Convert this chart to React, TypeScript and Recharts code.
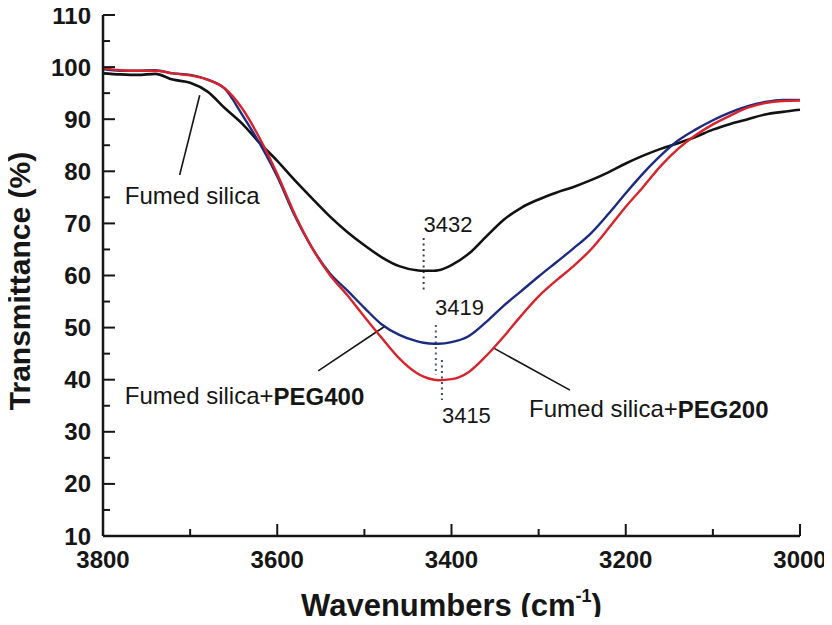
import React from "react";
import { LineChart, Line, XAxis, YAxis, ReferenceLine, ReferenceDot } from "recharts";

// wavenumber (cm-1) sampling shared by the three spectra
const wavenumbers = [
  3800, 3780, 3760, 3740, 3720, 3700, 3680, 3660, 3640, 3620, 3600, 3580, 3560, 3540, 3520,
  3500, 3480, 3460, 3440, 3432, 3420, 3415, 3400, 3380, 3360, 3340, 3320, 3300, 3280, 3260,
  3240, 3220, 3200, 3180, 3160, 3140, 3120, 3100, 3080, 3060, 3040, 3020, 3000,
];

// transmittance (%)
const fumedSilica = [
  98.8, 98.6, 98.5, 98.7, 97.6, 97.0, 95.3, 92.1, 89.1, 85.4, 82.0, 78.3, 74.8, 71.4, 68.4,
  65.8, 63.5, 61.8, 61.0, 60.9, 60.9, 61.0, 62.0, 64.2, 67.5, 70.7, 73.0, 74.6, 75.9, 77.0,
  78.3, 79.8, 81.5, 83.0, 84.3, 85.4, 86.6, 88.0, 89.1, 90.0, 90.9, 91.4, 91.8,
];
const peg400 = [
  99.6, 99.3, 99.3, 99.4, 98.8, 98.5, 97.6, 95.8, 90.8, 85.3, 79.0, 71.5, 65.3, 60.5, 57.2,
  53.8, 50.6, 48.6, 47.4, 47.1, 46.9, 46.9, 47.2, 48.4, 51.1, 54.2, 57.0, 59.8, 62.5, 65.2,
  68.1, 71.8, 75.8, 79.6, 83.0, 85.9, 88.0, 89.8, 91.3, 92.5, 93.3, 93.7, 93.7,
];
const peg200 = [
  99.8, 99.4, 99.3, 99.3, 98.8, 98.4, 97.6, 95.9, 92.0, 86.3, 79.5, 71.8, 65.3, 60.2, 56.3,
  52.1, 48.0, 44.1, 41.3, 40.6, 40.0, 39.9, 40.1, 41.5, 44.6, 48.3, 52.3, 56.0, 59.0, 61.8,
  65.0, 69.0, 73.2, 77.0, 81.0, 84.3, 86.9, 89.0, 90.7, 92.2, 93.1, 93.5, 93.6,
];

const xTicks = [3000, 3100, 3200, 3300, 3400, 3500, 3600, 3700, 3800];
const yTicks = [10, 15, 20, 25, 30, 35, 40, 45, 50, 55, 60, 65, 70, 75, 80, 85, 90, 95, 100, 105, 110];

// peak markers: wavenumber, top and bottom of the dotted line
const peakLines = [
  { wn: 3432, top: 67.2, bottom: 56.7, color: "#3a3f4f" },
  { wn: 3418, top: 50.5, bottom: 40.9, color: "#4a5a82" },
  { wn: 3411, top: 43.8, bottom: 36.1, color: "#3a4a70" },
];
const peakLabels = [
  { wn: 3432, t: 69.8, text: "3432" },
  { wn: 3419, t: 53.8, text: "3419" },
  { wn: 3411, t: 33.2, text: "3415" },
];

// leader lines from the captions to the curves
const pointers = [
  { from: { x: 3712, y: 79.3 }, to: { x: 3689, y: 94.6 } },
  { from: { x: 3553, y: 41.7 }, to: { x: 3476, y: 50.3 } },
  { from: { x: 3352, y: 46.1 }, to: { x: 3264, y: 38.0 } },
];
const captions = [
  { wn: 3775, t: 75.3, plain: "Fumed silica", bold: "" },
  { wn: 3775, t: 36.9, plain: "Fumed silica+", bold: "PEG400" },
  { wn: 3311, t: 34.4, plain: "Fumed silica+", bold: "PEG200" },
];

const data = wavenumbers.map((wn, i) => ({
  wn,
  silica: fumedSilica[i],
  peg400: peg400[i],
  peg200: peg200[i],
}));

const INK = "#161616";
const FONT = "'Liberation Sans', Arial, sans-serif";

const XTick = (props: any) => {
  const { x, y, payload } = props;
  const major = payload.value % 200 === 0;
  return (
    <g>
      <line x1={x} y1={y} x2={x} y2={y - (major ? 12 : 7)} stroke={INK} strokeWidth={2} />
      {major && (
        <text x={x} y={y + 23} textAnchor="middle" dominantBaseline="central" fontSize={24} fontWeight="bold" fill={INK} fontFamily={FONT}>
          {payload.value}
        </text>
      )}
    </g>
  );
};

const YTick = (props: any) => {
  const { x, y, payload } = props;
  const major = payload.value % 10 === 0;
  return (
    <g>
      <line x1={x} y1={y} x2={x + (major ? 12 : 7)} y2={y} stroke={INK} strokeWidth={2} />
      {major && (
        <text x={x - 12} y={y} textAnchor="end" dominantBaseline="central" fontSize={24} fontWeight="bold" fill={INK} fontFamily={FONT}>
          {payload.value}
        </text>
      )}
    </g>
  );
};

export default function App() {
  return (
    <div style={{ width: 832, height: 625, margin: -8, fontFamily: FONT }}>
      <LineChart width={832} height={625} data={data} margin={{ top: 15, right: 32, left: 0, bottom: 0 }}>
        <XAxis
          dataKey="wn"
          type="number"
          domain={[3000, 3800]}
          reversed
          ticks={xTicks}
          interval={0}
          tickSize={0}
          tickMargin={0}
          tick={<XTick />}
          tickLine={false}
          axisLine={{ stroke: INK, strokeWidth: 2.5 }}
          height={89}
          label={(p: any) => {
            const vb = p.viewBox;
            return (
              <text x={vb.x + vb.width / 2} y={vb.y + 80} textAnchor="middle" fontSize={31} fontWeight="bold" fill={INK} fontFamily={FONT}>
                Wavenumbers (cm
                <tspan fontSize={18} dy={-14}>-1</tspan>
                <tspan dy={14}>)</tspan>
              </text>
            );
          }}
        />
        <XAxis xAxisId="top" orientation="top" type="number" domain={[3000, 3800]} reversed height={0} tick={false} tickLine={false} axisLine={{ stroke: INK, strokeWidth: 2.5 }} />
        <YAxis
          type="number"
          domain={[10, 110]}
          ticks={yTicks}
          interval={0}
          tickSize={0}
          tickMargin={0}
          tick={<YTick />}
          tickLine={false}
          axisLine={{ stroke: INK, strokeWidth: 2.5 }}
          width={103}
          label={() => {
            const cx = 19;
            const cy = 281;
            return (
              <text x={cx} y={cy} transform={`rotate(-90 ${cx} ${cy})`} textAnchor="middle" dominantBaseline="central" fontSize={30} fontWeight="bold" fill={INK} fontFamily={FONT}>
                Transmittance (%)
              </text>
            );
          }}
        />
        <YAxis yAxisId="right" orientation="right" type="number" domain={[10, 110]} width={0} tick={false} tickLine={false} axisLine={{ stroke: INK, strokeWidth: 2.5 }} />

        {peakLines.map((p) => (
          <ReferenceLine
            key={p.wn}
            segment={[{ x: p.wn, y: p.top }, { x: p.wn, y: p.bottom }]}
            stroke={p.color}
            strokeWidth={2}
            strokeDasharray="2 3.5"
          />
        ))}
        {pointers.map((p, i) => (
          <ReferenceLine key={"ptr" + i} segment={[p.from, p.to]} stroke={INK} strokeWidth={1.6} />
        ))}

        <Line type="monotone" dataKey="silica" stroke="#121212" strokeWidth={2.6} dot={false} isAnimationActive={false} />
        <Line type="monotone" dataKey="peg400" stroke="#1c2a80" strokeWidth={2.4} dot={false} isAnimationActive={false} />
        <Line type="monotone" dataKey="peg200" stroke="#d9232b" strokeWidth={2.4} dot={false} isAnimationActive={false} />

        {peakLabels.map((l) => (
          <ReferenceDot
            key={"lbl" + l.text}
            x={l.wn}
            y={l.t}
            r={0}
            fill="none"
            stroke="none"
            label={(p: any) => (
              <text x={p.viewBox.x} y={p.viewBox.y} dominantBaseline="central" fontSize={22} fill={INK} fontFamily={FONT}>
                {l.text}
              </text>
            )}
          />
        ))}
        {captions.map((c, i) => (
          <ReferenceDot
            key={"cap" + i}
            x={c.wn}
            y={c.t}
            r={0}
            fill="none"
            stroke="none"
            label={(p: any) => (
              <text x={p.viewBox.x} y={p.viewBox.y} dominantBaseline="central" fontSize={24} fill={INK} fontFamily={FONT}>
                {c.plain}
                {c.bold && <tspan fontWeight="bold">{c.bold}</tspan>}
              </text>
            )}
          />
        ))}
      </LineChart>
    </div>
  );
}
